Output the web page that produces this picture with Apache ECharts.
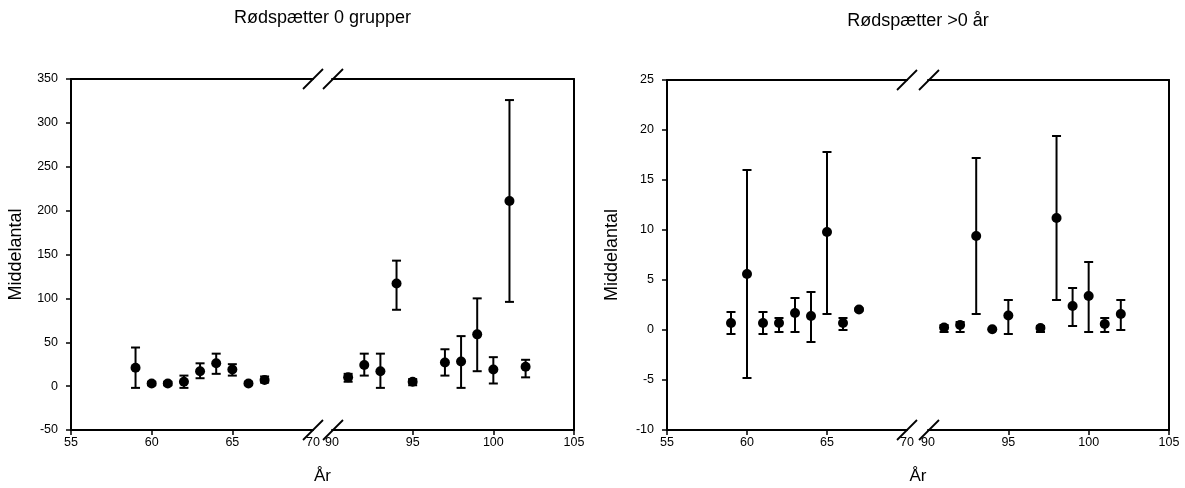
<!DOCTYPE html>
<html>
<head>
<meta charset="utf-8">
<script src="https://cdn.jsdelivr.net/npm/echarts@6/dist/echarts.min.js"></script>
<style>
html,body{margin:0;padding:0;background:#fff;}
#chart{width:1185px;height:488px;}
</style>
</head>
<body>
<div id="chart"></div>
<script>
// ---- data ----
const yearsEarly = [59, 60, 61, 62, 63, 64, 65, 66, 67];
const yearsLate = [91, 92, 93, 94, 95, 97, 98, 99, 100, 101, 102];

// Rødspætter 0 grupper
const g0MeanEarly = [21, 3, 3, 5, 17, 26, 19, 3, 7];
const g0LowEarly  = [-2, 1, 1, -2, 9, 14, 12, 2, 4];
const g0HighEarly = [44, 5, 5, 12, 26, 37, 25, 5, 11];
const g0MeanLate  = [10, 24, 17, 117, 5, 27, 28, 59, 19, 211, 22];
const g0LowLate   = [5, 12, -2, 87, 1, 12, -2, 17, 3, 96, 10];
const g0HighLate  = [14, 37, 37, 143, 8, 42, 57, 100, 33, 326, 30];

// Rødspætter >0 år
const a0MeanEarly = [0.7, 5.6, 0.7, 0.7, 1.7, 1.4, 9.8, 0.7, 2.05];
const a0LowEarly  = [-0.4, -4.8, -0.4, -0.2, -0.2, -1.2, 1.6, 0.0, 1.95];
const a0HighEarly = [1.8, 16.0, 1.8, 1.2, 3.2, 3.8, 17.8, 1.2, 2.15];
const a0MeanLate  = [0.25, 0.5, 9.4, 0.07, 1.45, 0.2, 11.2, 2.4, 3.4, 0.6, 1.6];
const a0LowLate   = [-0.2, -0.2, 1.6, 0.02, -0.4, -0.2, 3.0, 0.4, -0.2, -0.2, 0.0];
const a0HighLate  = [0.5, 0.8, 17.2, 0.12, 3.0, 0.4, 19.4, 4.2, 6.8, 1.2, 3.0];

const titles = ['Rødspætter 0 grupper', 'Rødspætter >0 år'];
const yName = 'Middelantal';
const xName = 'År';
const earlyRange = [55, 70];
const lateRange = [90, 105];
const earlyTicks = [55, 60, 65];
const earlyLabels = [55, 60, 65, 70];
const lateTicks = [95, 100, 105];
const lateLabels = [90, 95, 100, 105];
const yRanges = [[-50, 350, 50], [-10, 25, 5]];

// ---- layout ----
const FONT = '"Liberation Sans", Arial, sans-serif';
const panels = [
  { a: {left: 71, top: 79, width: 242, height: 351}, b: {left: 332, top: 79, width: 242, height: 351}, titleY: 18 },
  { a: {left: 667, top: 80, width: 240, height: 350}, b: {left: 928, top: 80, width: 241, height: 350}, titleY: 21 }
];
const datasets = [
  {early: [g0MeanEarly, g0LowEarly, g0HighEarly], late: [g0MeanLate, g0LowLate, g0HighLate]},
  {early: [a0MeanEarly, a0LowEarly, a0HighEarly], late: [a0MeanLate, a0LowLate, a0HighLate]}
];

const AXW = 2;
const lineStyle = {color: '#000', width: AXW};

const grids = [], xAxes = [], yAxes = [], series = [], graphics = [];

function errRender(params, api) {
  const x = api.value(0);
  const pHi = api.coord([x, api.value(2)]);
  const pLo = api.coord([x, api.value(1)]);
  const hw = 4.5;
  const st = {stroke: '#000', lineWidth: 2, fill: null};
  return {
    type: 'group',
    children: [
      {type: 'line', shape: {x1: pHi[0], y1: pHi[1], x2: pLo[0], y2: pLo[1]}, style: st},
      {type: 'line', shape: {x1: pHi[0] - hw, y1: pHi[1], x2: pHi[0] + hw, y2: pHi[1]}, style: st},
      {type: 'line', shape: {x1: pLo[0] - hw, y1: pLo[1], x2: pLo[0] + hw, y2: pLo[1]}, style: st}
    ]
  };
}

panels.forEach((p, pi) => {
  const yr = yRanges[pi];
  [['a', earlyRange, earlyTicks, earlyLabels, yearsEarly, datasets[pi].early],
   ['b', lateRange, lateTicks, lateLabels, yearsLate, datasets[pi].late]].forEach(([k, xr, ticks, labels, years, d], si) => {
    const gi = grids.length;
    grids.push(Object.assign({containLabel: false}, p[k]));
    xAxes.push({
      type: 'value', gridIndex: gi, position: 'bottom', min: xr[0], max: xr[1],
      axisLine: {show: true, onZero: false, lineStyle: lineStyle},
      axisTick: {show: true, inside: false, length: 5, customValues: ticks, lineStyle: {color: '#000', width: 1.5}},
      axisLabel: {show: true, customValues: labels, color: '#000', fontSize: 12.5, fontFamily: FONT, margin: 6},
      splitLine: {show: false}
    });
    const bottomIdx = xAxes.length - 1;
    xAxes.push({
      type: 'value', gridIndex: gi, position: 'top', min: xr[0], max: xr[1],
      axisLine: {show: true, onZero: false, lineStyle: lineStyle},
      axisTick: {show: false}, axisLabel: {show: false}, splitLine: {show: false}
    });
    if (si === 0) {
      yAxes.push({
        type: 'value', gridIndex: gi, position: 'left', min: yr[0], max: yr[1], interval: yr[2],
        axisLine: {show: true, onZero: false, lineStyle: lineStyle},
        axisTick: {show: true, inside: false, length: 5, lineStyle: {color: '#000', width: 1.5}},
        axisLabel: {color: '#000', fontSize: 12.5, fontFamily: FONT, margin: 13},
        splitLine: {show: false},
        name: yName, nameLocation: 'middle', nameGap: 46,
        nameTextStyle: {color: '#000', fontSize: 18, fontFamily: FONT}
      });
    } else {
      yAxes.push({
        type: 'value', gridIndex: gi, position: 'right', min: yr[0], max: yr[1], interval: yr[2],
        axisLine: {show: true, onZero: false, lineStyle: lineStyle},
        axisTick: {show: false}, axisLabel: {show: false}, splitLine: {show: false}
      });
    }
    const yIdx = yAxes.length - 1;
    series.push({
      type: 'custom', xAxisIndex: bottomIdx, yAxisIndex: yIdx,
      renderItem: errRender, encode: {x: 0, y: [1, 2]},
      data: years.map((yy, i) => [yy, d[1][i], d[2][i]]),
      silent: true, z: 2
    });
    series.push({
      type: 'scatter', xAxisIndex: bottomIdx, yAxisIndex: yIdx,
      symbol: 'circle', symbolSize: 10,
      itemStyle: {color: '#000', opacity: 1},
      data: years.map((yy, i) => [yy, d[0][i]]),
      silent: true, z: 3
    });
  });

  const cx = (p.a.left + p.b.left + p.b.width) / 2;
  graphics.push({type: 'text', x: cx, y: p.titleY, style: {text: titles[pi], fill: '#000', font: '18px ' + FONT, align: 'center', verticalAlign: 'middle'}});
  graphics.push({type: 'text', x: cx, y: 476, style: {text: xName, fill: '#000', font: '17px ' + FONT, align: 'center', verticalAlign: 'middle'}});

  const xs = [p.a.left + p.a.width, p.b.left + 1];
  const ys = [p.a.top, p.a.top + p.a.height];
  xs.forEach(bx => ys.forEach(by => {
    graphics.push({type: 'line', shape: {x1: bx - 10, y1: by + 10, x2: bx + 10, y2: by - 10}, style: {stroke: '#000', lineWidth: 1.8}, z: 100});
  }));
});

const chart = echarts.init(document.getElementById('chart'), null, {renderer: 'canvas'});
chart.setOption({
  animation: false,
  backgroundColor: '#fff',
  grid: grids,
  xAxis: xAxes,
  yAxis: yAxes,
  series: series,
  graphic: graphics
});
</script>
</body>
</html>
